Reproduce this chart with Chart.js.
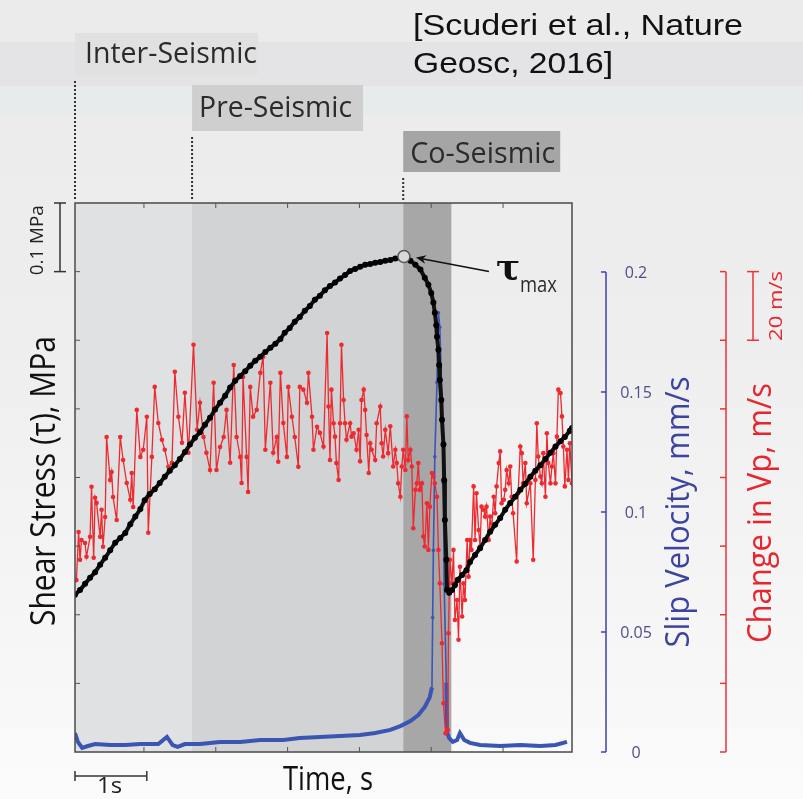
<!DOCTYPE html>
<html>
<head>
<meta charset="utf-8">
<script src="https://cdn.jsdelivr.net/npm/chart.js@4.4.0/dist/chart.umd.min.js"></script>
<style>
html, body { margin: 0; padding: 0; }
body {
  width: 803px; height: 799px; overflow: hidden;
  background: linear-gradient(to bottom, #ebebeb 0, #ebebeb 42px, #e4e4e7 42px, #e4e4e7 86px,
    #e7ebeb 86px, #e7ebeb 116px, #ececec 116px, #eeeeee 330px, #f4f4f4 560px, #fbfbfb 799px);
}
canvas { display: block; }
</style>
</head>
<body>
<canvas id="chart" width="803" height="799"></canvas>
<script>
// axes (time in s, shear stress in MPa, slip velocity in mm/s, change in Vp in m/s)
const timeTicks = [1, 2, 3, 4, 5, 6];
const stressTicks = [0.1, 0.2, 0.3, 0.4, 0.5, 0.6, 0.7];
const slipTicks = [0, 0.05, 0.1, 0.15, 0.2];
const slipTickLabels = ['0', '0.05', '0.1', '0.15', '0.2'];
const vpTicks = [0, 20, 40, 60, 80, 100, 120, 140];

// phases of the seismic cycle
const phaseNames = ['Inter-Seismic', 'Pre-Seismic', 'Co-Seismic'];
const phaseStart = [0.04, 1.67, 4.61];
const phaseEnd = [1.67, 4.61, 5.28];

// tau max
const peakT = 4.62;
const peakV = 0.722;

// shear stress [t, MPa]
const stressSeries = [
  [0.04,0.229],[0.11,0.236],[0.18,0.245],[0.25,0.254],[0.32,0.262],[0.39,0.273],[0.46,0.283],
  [0.53,0.294],[0.60,0.305],[0.67,0.312],[0.74,0.319],[0.81,0.332],[0.88,0.343],[0.95,0.354],
  [1.01,0.367],[1.08,0.376],[1.15,0.383],[1.22,0.392],[1.29,0.401],[1.36,0.410],[1.43,0.418],
  [1.50,0.427],[1.57,0.437],[1.64,0.448],[1.71,0.458],[1.78,0.466],[1.85,0.477],[1.92,0.487],
  [1.99,0.499],[2.06,0.509],[2.13,0.519],[2.20,0.531],[2.27,0.541],[2.34,0.548],[2.41,0.555],
  [2.48,0.563],[2.55,0.570],[2.62,0.576],[2.69,0.583],[2.76,0.589],[2.83,0.595],[2.90,0.602],
  [2.96,0.611],[3.03,0.618],[3.10,0.627],[3.17,0.634],[3.24,0.643],[3.31,0.650],[3.38,0.659],
  [3.45,0.665],[3.52,0.673],[3.59,0.679],[3.66,0.684],[3.73,0.690],[3.80,0.695],[3.87,0.701],
  [3.94,0.704],[4.01,0.707],[4.08,0.710],[4.15,0.711],[4.22,0.713],[4.29,0.714],[4.36,0.716],
  [4.43,0.717],[4.50,0.719],[4.57,0.720],[4.62,0.722],[4.71,0.716],[4.78,0.710],[4.85,0.703],
  [4.91,0.691],[4.96,0.681],[5.00,0.669],[5.03,0.655],[5.05,0.640],[5.07,0.622],[5.08,0.605],
  [5.10,0.586],[5.11,0.564],[5.12,0.542],[5.14,0.513],[5.15,0.484],[5.17,0.448],[5.18,0.396],
  [5.19,0.338],[5.21,0.280],[5.22,0.236],[5.25,0.232],[5.29,0.236],[5.33,0.243],[5.37,0.251],
  [5.43,0.258],[5.49,0.265],[5.54,0.277],[5.61,0.287],[5.68,0.297],[5.75,0.309],[5.82,0.321],
  [5.89,0.331],[5.96,0.341],[6.03,0.353],[6.10,0.363],[6.17,0.372],[6.24,0.382],[6.31,0.391],
  [6.38,0.401],[6.45,0.410],[6.52,0.418],[6.59,0.427],[6.66,0.436],[6.73,0.445],[6.80,0.453],
  [6.86,0.459],[6.93,0.468],[6.96,0.472]
];

// change in Vp [t, m/s]
const vpSeries = [
  [0.06,50.1],[0.09,64.1],[0.11,56.0],[0.13,61.8],[0.18,60.9],[0.20,56.9],[0.25,62.7],[0.27,77.3],
  [0.30,56.6],[0.32,74.1],[0.34,72.6],[0.39,62.7],[0.41,70.6],[0.43,59.8],[0.46,68.5],[0.48,91.8],
  [0.53,79.3],[0.55,81.6],[0.57,74.3],[0.62,67.6],[0.67,91.8],[0.71,85.1],[0.76,78.4],[0.81,73.5],
  [0.83,81.3],[0.85,71.4],[0.90,99.7],[0.95,86.0],[0.99,88.1],[1.04,97.7],[1.06,63.9],[1.11,86.0],
  [1.15,106.4],[1.20,95.9],[1.25,91.0],[1.29,88.1],[1.34,83.1],[1.39,84.3],[1.43,110.8],[1.48,97.7],
  [1.53,90.1],[1.57,104.7],[1.62,87.2],[1.69,118.7],[1.74,93.9],[1.78,101.8],[1.83,91.8],[1.87,87.2],
  [1.92,82.2],[1.97,107.6],[2.01,82.2],[2.06,88.9],[2.11,91.8],[2.15,99.7],[2.20,84.3],[2.25,112.8],
  [2.29,91.8],[2.34,86.0],[2.36,78.4],[2.38,109.3],[2.43,86.0],[2.45,75.8],[2.48,106.4],[2.52,97.7],
  [2.57,99.7],[2.62,110.5],[2.66,115.2],[2.69,88.1],[2.76,107.6],[2.80,87.2],[2.85,91.8],[2.87,84.6],
  [2.90,110.5],[2.94,95.9],[2.99,86.0],[3.01,106.4],[3.06,97.7],[3.10,91.8],[3.15,83.1],[3.17,106.4],
  [3.22,105.6],[3.27,101.8],[3.29,110.5],[3.34,97.7],[3.36,88.1],[3.41,94.8],[3.45,93.0],[3.50,89.0],
  [3.55,122.1],[3.57,100.7],[3.59,85.1],[3.61,105.6],[3.64,95.8],[3.66,91.9],[3.68,84.2],[3.71,79.3],
  [3.73,95.8],[3.75,118.7],[3.78,102.6],[3.80,95.8],[3.82,91.0],[3.87,95.8],[3.89,91.9],[3.92,92.9],
  [3.96,88.1],[3.99,93.9],[4.01,84.7],[4.03,102.6],[4.06,105.6],[4.08,99.7],[4.10,92.4],[4.13,81.3],
  [4.15,90.0],[4.17,88.1],[4.22,85.1],[4.24,95.8],[4.29,100.7],[4.31,90.0],[4.33,86.1],[4.36,93.9],
  [4.40,87.1],[4.43,94.9],[4.47,83.2],[4.50,88.1],[4.52,84.2],[4.54,78.3],[4.57,74.4],[4.59,83.2],
  [4.61,88.1],[4.64,82.2],[4.66,97.8],[4.68,85.1],[4.71,88.1],[4.73,83.2],[4.75,65.2],[4.78,76.4],
  [4.80,78.3],[4.82,84.2],[4.84,76.4],[4.87,78.3],[4.89,62.8],[4.91,59.9],[4.94,72.5],[4.96,58.9],
  [4.98,71.5],[5.01,81.3],[5.03,80.3],[5.05,78.3],[5.08,74.4],[5.10,58.9],[5.12,49.2],[5.15,31.7],
  [5.17,14.2],[5.20,5.5],[5.23,6.4],[5.24,34.6],[5.26,56.0],[5.29,49.2],[5.31,58.9],[5.33,38.5],
  [5.36,44.3],[5.38,32.7],[5.40,54.0],[5.43,39.5],[5.45,49.2],[5.47,44.3],[5.50,61.8],[5.52,51.1],
  [5.54,61.8],[5.56,58.9],[5.59,77.4],[5.61,61.8],[5.63,75.4],[5.66,64.7],[5.68,59.9],[5.70,71.5],
  [5.73,70.6],[5.75,68.6],[5.77,71.5],[5.80,61.8],[5.82,68.6],[5.84,64.7],[5.87,74.4],[5.89,69.6],
  [5.91,77.4],[5.94,84.2],[5.96,87.6],[5.98,72.5],[6.01,73.5],[6.03,76.4],[6.05,82.2],[6.08,78.3],
  [6.10,83.2],[6.12,74.4],[6.14,69.6],[6.19,55.5],[6.21,75.4],[6.24,89.0],[6.26,87.1],[6.28,78.3],
  [6.31,84.2],[6.33,72.5],[6.38,78.3],[6.42,56.0],[6.45,79.3],[6.47,95.8],[6.49,86.1],[6.52,80.3],
  [6.54,78.3],[6.56,87.1],[6.59,74.4],[6.61,92.9],[6.63,84.2],[6.66,78.3],[6.68,83.2],[6.70,87.1],
  [6.73,78.3],[6.75,91.9],[6.77,105.6],[6.80,104.6],[6.82,97.8],[6.84,89.0],[6.86,77.4],[6.89,88.1],
  [6.91,79.3],[6.93,90.0],[6.96,78.3]
];

// slip velocity [t, mm/s]
const slipSeries = [
  [0.04,0.0079],[0.08,0.0042],[0.14,0.0017],[0.22,0.0025],[0.32,0.0033],[0.53,0.0029],[0.74,0.0029],
  [0.95,0.0033],[1.20,0.0033],[1.32,0.0063],[1.40,0.0029],[1.47,0.0021],[1.57,0.0033],[1.78,0.0033],
  [2.06,0.0042],[2.34,0.0042],[2.62,0.0050],[2.94,0.0050],[3.17,0.0058],[3.45,0.0063],[3.73,0.0067],
  [4.01,0.0071],[4.22,0.0079],[4.43,0.0092],[4.57,0.0108],[4.71,0.0129],[4.82,0.0154],[4.91,0.0188],
  [4.98,0.0229],[5.01,0.027],[5.02,0.056],[5.03,0.084],[5.05,0.123],[5.08,0.154],[5.10,0.183],
  [5.12,0.177],[5.15,0.147],[5.17,0.112],[5.18,0.070],[5.21,0.029],[5.22,0.008],[5.25,0.0058],
  [5.30,0.0042],[5.36,0.0050],[5.40,0.0079],[5.46,0.0050],[5.54,0.0038],[5.68,0.0029],[5.96,0.0025],
  [6.24,0.0029],[6.52,0.0025],[6.73,0.0029],[6.89,0.0042]
];

const toXY = arr => arr.map(p => ({ x: p[0], y: p[1] }));

const SANS = "'Open Sans'";

// draw text at a given size, squeezed horizontally to a given width
function fitText(ctx, txt, x, y, size, w, family) {
  ctx.font = size + 'px ' + (family || SANS);
  const k = w / ctx.measureText(txt).width;
  ctx.save();
  ctx.translate(x, y);
  ctx.scale(k, 1);
  ctx.fillText(txt, 0, 0);
  ctx.restore();
}

function vText(ctx, txt, cx, cy, size, len, color) {
  ctx.save();
  ctx.translate(cx, cy);
  ctx.rotate(-Math.PI / 2);
  ctx.fillStyle = color;
  ctx.textAlign = 'center';
  ctx.textBaseline = 'middle';
  fitText(ctx, txt, 0, 0, size, len);
  ctx.restore();
}

function seg(ctx, x0, y0, x1, y1) {
  ctx.beginPath();
  ctx.moveTo(x0, y0);
  ctx.lineTo(x1, y1);
  ctx.stroke();
}

const decor = {
  id: 'decor',
  beforeDatasetsDraw(chart) {
    const { ctx, chartArea: a, scales: { x } } = chart;
    const fills = ['#e0e1e2', '#d2d3d4', '#a7a7a8'];
    ctx.save();
    phaseStart.forEach((s, i) => {
      const x0 = x.getPixelForValue(s);
      const x1 = x.getPixelForValue(phaseEnd[i]);
      ctx.fillStyle = fills[i];
      ctx.fillRect(x0, a.top, x1 - x0, a.bottom - a.top);
    });
    ctx.restore();
  },
  afterDatasetsDraw(chart) {
    const { ctx, chartArea: a, scales } = chart;
    const x = scales.x, yS = scales.yS;
    ctx.save();
    // frame + inner ticks
    ctx.strokeStyle = '#4a4a4a';
    ctx.lineWidth = 1.5;
    ctx.strokeRect(a.left, a.top, a.right - a.left, a.bottom - a.top);
    ctx.lineWidth = 1;
    ctx.strokeStyle = '#555';
    timeTicks.forEach(t => {
      const px = x.getPixelForValue(t);
      seg(ctx, px, a.top, px, a.top + 5);
      seg(ctx, px, a.bottom, px, a.bottom - 5);
    });
    stressTicks.forEach(v => {
      const py = yS.getPixelForValue(v);
      seg(ctx, a.left, py, a.left + 5, py);
    });

    // tau max arrow + label
    const pk = chart.getDatasetMeta(0).data[0];
    const hx = pk.x + 12, hy = pk.y + 1, tx = pk.x + 85, ty = pk.y + 15;
    ctx.strokeStyle = '#111';
    ctx.fillStyle = '#111';
    ctx.lineWidth = 1.6;
    seg(ctx, tx, ty, hx + 2, hy + 0.4);
    const ang = Math.atan2(hy - ty, hx - tx);
    ctx.beginPath();
    ctx.moveTo(hx, hy);
    ctx.lineTo(hx - 11 * Math.cos(ang - 0.4), hy - 11 * Math.sin(ang - 0.4));
    ctx.lineTo(hx - 7 * Math.cos(ang), hy - 7 * Math.sin(ang));
    ctx.lineTo(hx - 11 * Math.cos(ang + 0.4), hy - 11 * Math.sin(ang + 0.4));
    ctx.closePath();
    ctx.fill();
    ctx.font = "bold 36px 'DejaVu Serif'";
    ctx.textBaseline = 'alphabetic';
    ctx.fillText('τ', pk.x + 92, pk.y + 22);
    ctx.fillStyle = '#2a2a2a';
    fitText(ctx, 'max', pk.x + 116, pk.y + 35, 21, 37);
    ctx.restore();
  },
  afterDraw(chart) {
    const { ctx, chartArea: a, scales } = chart;
    const x = scales.x, yS = scales.yS, yR = scales.yR, yB = scales.yB;
    ctx.save();

    // phase labels with boxes and dotted guides
    const boxes = [
      { top: 33, h: 42, w: 183, fill: '#e1e1e2', dx: 10, base: 63, tw: 172 },
      { top: 85, h: 46, w: 171, fill: '#cfcfd0', dx: 7, base: 117, tw: 153 },
      { top: 131, h: 41, w: 157, fill: '#a5a5a6', dx: 7, base: 163, tw: 145 }
    ];
    phaseNames.forEach((name, i) => {
      const b = boxes[i];
      const px = x.getPixelForValue(phaseStart[i]);
      ctx.fillStyle = b.fill;
      ctx.fillRect(px, b.top, b.w, b.h);
      ctx.fillStyle = '#2b2b2b';
      ctx.textAlign = 'left';
      ctx.textBaseline = 'alphabetic';
      fitText(ctx, name, px + b.dx, b.base, 29, b.tw);
      ctx.save();
      ctx.strokeStyle = '#333';
      ctx.lineWidth = 2;
      ctx.setLineDash([2, 2]);
      seg(ctx, px, b.top + b.h + 6, px, a.top - 2);
      ctx.restore();
    });

    // reference
    ctx.fillStyle = '#111';
    fitText(ctx, '[Scuderi et al., Nature', 413, 35, 30, 330, "'Liberation Sans'");
    fitText(ctx, 'Geosc, 2016]', 413, 73, 30, 200, "'Liberation Sans'");

    // left: stress scale bar and label
    ctx.strokeStyle = '#333';
    ctx.lineWidth = 1.5;
    const sb0 = yS.getPixelForValue(0.8), sb1 = yS.getPixelForValue(0.7);
    seg(ctx, 60, sb0, 60, sb1);
    seg(ctx, 54, sb0, 66, sb0);
    seg(ctx, 54, sb1, 66, sb1);
    vText(ctx, '0.1 MPa', 38, (sb0 + sb1) / 2 + 3, 19, 70, '#222');
    vText(ctx, 'Shear Stress (τ), MPa', 45, 481, 34, 290, '#111');

    // bottom: 1 s scale bar and axis title
    const t0 = x.getPixelForValue(0.04), t1 = x.getPixelForValue(1.04);
    seg(ctx, t0, 776, t1, 776);
    seg(ctx, t0, 771, t0, 781);
    seg(ctx, t1, 771, t1, 781);
    ctx.fillStyle = '#222';
    ctx.textAlign = 'left';
    fitText(ctx, '1s', 97, 793, 21, 25);
    ctx.fillStyle = '#111';
    fitText(ctx, 'Time, s', 283, 790, 33, 90);

    // right: slip velocity axis
    const bx = a.right + 34;
    ctx.strokeStyle = '#3d45a5';
    ctx.lineWidth = 1.5;
    seg(ctx, bx, yB.getPixelForValue(0), bx, yB.getPixelForValue(0.2));
    ctx.font = '16px ' + SANS;
    ctx.fillStyle = '#4d4f8a';
    ctx.textAlign = 'center';
    ctx.textBaseline = 'middle';
    slipTicks.forEach((v, i) => {
      const py = yB.getPixelForValue(v);
      seg(ctx, bx - 5, py, bx, py);
      ctx.fillText(slipTickLabels[i], bx + 30, py + 1);
    });
    vText(ctx, 'Slip Velocity, mm/s', a.right + 108, 512, 32, 271, '#3c44a0');

    // right: change in Vp axis
    const rx = a.right + 154;
    ctx.strokeStyle = '#e8333a';
    seg(ctx, rx, yR.getPixelForValue(0), rx, yR.getPixelForValue(140));
    vpTicks.forEach(v => {
      const py = yR.getPixelForValue(v);
      seg(ctx, rx - 6, py, rx, py);
    });
    const r0 = yR.getPixelForValue(140), r1 = yR.getPixelForValue(120);
    seg(ctx, rx + 27, r0, rx + 27, r1);
    seg(ctx, rx + 21, r0, rx + 33, r0);
    seg(ctx, rx + 21, r1, rx + 33, r1);
    vText(ctx, '20 m/s', rx + 51, (r0 + r1) / 2, 19, 70, '#e5262e');
    vText(ctx, 'Change in Vp, m/s', rx + 36, 513, 32, 260, '#e5262e');

    ctx.restore();
  }
};

new Chart(document.getElementById('chart'), {
  type: 'line',
  data: {
    datasets: [
      {
        label: 'τmax',
        data: [{ x: peakT, y: peakV }],
        yAxisID: 'yS',
        showLine: false,
        pointRadius: 6,
        pointBackgroundColor: '#d9d9d9',
        pointBorderColor: '#555',
        pointBorderWidth: 1.5,
        order: 0
      },
      {
        label: 'Shear stress',
        data: toXY(stressSeries),
        yAxisID: 'yS',
        borderColor: '#111',
        borderWidth: 4,
        pointRadius: 3,
        pointBackgroundColor: '#000',
        pointBorderWidth: 0,
        order: 1
      },
      {
        label: 'Change in Vp',
        data: toXY(vpSeries),
        yAxisID: 'yR',
        borderColor: '#ec2a2f',
        borderWidth: 1.3,
        pointRadius: 2.3,
        pointBackgroundColor: '#ec2a2f',
        pointBorderWidth: 0,
        order: 2
      },
      {
        label: 'Slip velocity',
        data: toXY(slipSeries),
        yAxisID: 'yB',
        borderColor: '#3b55b3',
        borderWidth: 4,
        pointRadius: c => (c.raw && c.raw.y > 0.03 ? 1.8 : 0),
        pointBackgroundColor: '#3b55b3',
        pointBorderWidth: 0,
        segment: {
          borderWidth: c => (c.p0.parsed.y > 0.03 || c.p1.parsed.y > 0.03 ? 1.6 : 4)
        },
        order: 3
      }
    ]
  },
  options: {
    responsive: false,
    animation: false,
    devicePixelRatio: 1,
    layout: { padding: { left: 75, right: 231, top: 203, bottom: 47 } },
    plugins: { legend: { display: false }, tooltip: { enabled: false } },
    scales: {
      x: { type: 'linear', min: 0.04, max: 6.96, display: false },
      yS: { min: 0, max: 0.8, display: false },
      yR: { min: 0, max: 160, display: false },
      yB: { min: 0, max: 0.22875, display: false }
    }
  },
  plugins: [decor]
});
</script>
</body>
</html>
